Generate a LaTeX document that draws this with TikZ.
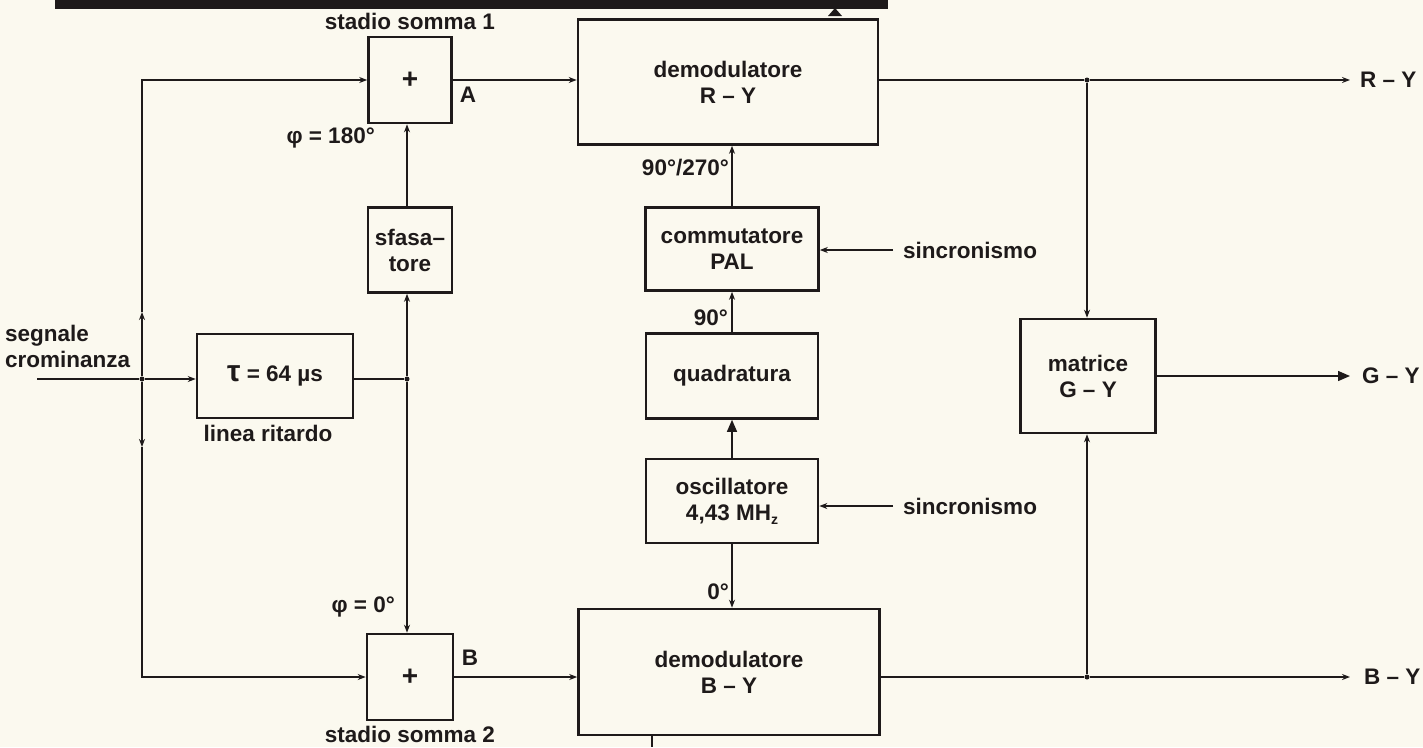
\documentclass[tikz,border=0pt]{standalone}
\usepackage{fontspec}
\setmainfont{Liberation Sans}
\usetikzlibrary{arrows.meta}
\definecolor{paper}{HTML}{FBF9EF}
\definecolor{ink}{HTML}{1E1A1A}
\begin{document}
\begin{tikzpicture}[x=1pt,y=-1pt,
  blk/.style={draw=ink,line width=2.6pt,rectangle,inner sep=0pt,align=center,font=\bfseries\fontsize{22.5}{26}\selectfont,text=ink},
  lbl/.style={inner sep=0pt,font=\bfseries\fontsize{22.5}{26}\selectfont,text=ink,align=center},
  wire/.style={draw=ink,line width=1.4pt},
  arr/.style={wire,-{Stealth[length=8pt,width=6pt]}},
  bigarr/.style={wire,-{Triangle[length=12pt,width=10pt]}},
  dot/.style={circle,fill=ink,inner sep=0pt,minimum size=5pt}]
\fill[paper] (0,0) rectangle (1423,747);
\useasboundingbox (0,0) rectangle (1423,747);
% top bar (cut header)
\fill[ink] (55,0) rectangle (888,9);
\fill[ink] (828,16) -- (842,16) -- (835,8) -- cycle;
% blocks
\node[blk,minimum width=83pt,minimum height=86pt] (s1) at (410,80) {\fontsize{28}{30}\selectfont +};
\node[blk,minimum width=84pt,minimum height=85pt] (sf) at (410,250) {sfasa–\\tore};
\node[blk,minimum width=156pt,minimum height=84pt] (dl) at (275,376) {{\fontsize{30}{32}\selectfont τ} = 64 µs};
\node[blk,minimum width=86pt,minimum height=86pt] (s2) at (410,677) {\fontsize{28}{30}\selectfont +};
\node[blk,minimum width=300pt,minimum height=125pt] (dR) at (728,82) {demodulatore\\R – Y};
\node[blk,minimum width=173pt,minimum height=83pt] (cm) at (732,249) {commutatore\\PAL};
\node[blk,minimum width=172pt,minimum height=85pt] (qd) at (732,376) {quadratura};
\node[blk,minimum width=172pt,minimum height=84pt] (os) at (732,501) {oscillatore\\4,43 MH\raisebox{-0.35ex}{\fontsize{14}{15}\selectfont z}};
\node[blk,minimum width=301pt,minimum height=126pt] (dB) at (729,672) {demodulatore\\B – Y};
\node[blk,minimum width=135pt,minimum height=114pt] (mx) at (1088,376) {matrice\\G – Y};
% junctions and free ends
\coordinate (in) at (37,379);
\node[dot] (jin) at (142,379) {};
\coordinate (bt) at (142,80);
\coordinate (bb) at (142,677);
\coordinate (bu) at (142,312);
\coordinate (bd) at (142,447);
\node[dot] (jd) at (407,379) {};
\node[dot] (jR) at (1087,80) {};
\node[dot] (jB) at (1087,677) {};
\coordinate (oR) at (1350,80);
\coordinate (oB) at (1350,677);
\coordinate (oG) at (1350,376);
\coordinate (sc1) at (893,250);
\coordinate (sc2) at (893,506);
\coordinate (stub) at (652,747);
% connectors
\draw[wire] (in) -- (jin);
\draw[arr] (jin) -- (dl.west |- jin);
\draw[wire] (dl.east |- jin) -- (jd);
\draw[arr] (jin) -- (bu);
\draw[arr] (bu) -- (bt) -- (s1.west);
\draw[arr] (jin) -- (bd);
\draw[arr] (bd) -- (bb) -- (s2.west);
\draw[arr] (jd) -- (jd |- sf.south);
\draw[arr] (jd |- sf.north) -- (jd |- s1.south);
\draw[arr] (jd) -- (jd |- s2.north);
\draw[arr] (s1.east) -- (dR.west |- s1.east);
\draw[arr] (s2.east) -- (dB.west |- s2.east);
\draw[wire] (dR.east |- jR) -- (jR);
\draw[arr] (jR) -- (oR);
\draw[arr] (jR) -- (mx.north -| jR);
\draw[wire] (dB.east |- jB) -- (jB);
\draw[arr] (jB) -- (oB);
\draw[arr] (jB) -- (mx.south -| jB);
\draw[bigarr] (mx.east) -- (oG);
\draw[arr] (cm.north) -- (dR.south -| cm.north);
\draw[arr] (qd.north) -- (cm.south);
\draw[bigarr] (os.north) -- (qd.south);
\draw[arr] (os.south) -- (dB.north -| os.south);
\draw[arr] (sc1) -- (cm.east |- sc1);
\draw[arr] (sc2) -- (os.east |- sc2);
\draw[wire] (stub |- dB.south) -- (stub);
% labels
\node[lbl] (t1) at (410,21) {stadio somma 1};
\node[lbl] (t2) at (410,734) {stadio somma 2};
\node[lbl] (tA) at (468,95) {A};
\node[lbl] (tB) at (470,658) {B};
\node[lbl,anchor=east] (tp1) at (375,138) {φ = 180°};
\node[lbl,anchor=east] (tp2) at (395,607) {φ = 0°};
\node[lbl,align=left,anchor=west] (tin) at (5,346) {segnale\\crominanza};
\node[lbl] (tlr) at (268,433) {linea ritardo};
\node[lbl,anchor=east] (t9027) at (729,168) {90°/270°};
\node[lbl,anchor=east] (t90) at (728,318) {90°};
\node[lbl,anchor=east] (t0) at (729,592) {0°};
\node[lbl,anchor=west] (ts1) at (903,250) {sincronismo};
\node[lbl,anchor=west] (ts2) at (903,506) {sincronismo};
\node[lbl,anchor=west] (tR) at (1360,80) {R – Y};
\node[lbl,anchor=west] (tG) at (1362,376) {G – Y};
\node[lbl,anchor=west] (tBY) at (1364,677) {B – Y};
\end{tikzpicture}
\end{document}
